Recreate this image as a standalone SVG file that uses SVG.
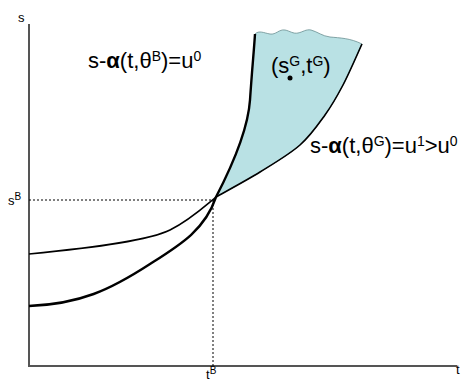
<svg xmlns="http://www.w3.org/2000/svg" width="468" height="381" viewBox="0 0 468 381">
<style>
text{font-family:"Liberation Sans",Arial,sans-serif;fill:#000}
.lbl{font-size:22px}
.sm{font-size:13px}
.axis{stroke:#555;stroke-width:2;fill:none}
.dash{stroke:#000;stroke-width:1;stroke-dasharray:2,2;fill:none}
.thin{stroke:#000;stroke-width:1.6;fill:none}
.thick{stroke:#000;stroke-width:2.4;fill:none}
</style>
<rect width="468" height="381" fill="#fff"/>
<g id="region">
<path d="M216,197 C230,170 248,130 250,100 C252,70 254,50 255,34 C259,30 264,33 270,34 C276,35 279,29 285,30 C290,31 293,34 298,33 C303,32 306,29 311,30 C318,32 322,36 330,37 C340,38 350,38 362,44 C358.8,50.8 349.2,73.2 343,85 C336.8,96.8 332.2,105 325,115 C317.8,125 310.8,135.5 300,145 C289.2,154.5 274,163.3 260,172 C246,180.7 223.3,192.8 216,197 Z" fill="#b9e1e4" stroke="#6a8f92" stroke-width="0.8"/>
</g>
<g id="connectors">
<line class="axis" x1="29" y1="24" x2="29" y2="367"/>
<line class="axis" x1="28" y1="366" x2="457" y2="366"/>
<line class="dash" x1="29" y1="200" x2="214" y2="200"/>
<line class="dash" x1="213" y1="200" x2="213" y2="366"/>
<path class="thin" d="M29,254 C100,247 150,240 170,230 C190,220 205,206 216,197 C223.3,192.8 246,180.7 260,172 C274,163.3 289.2,154.5 300,145 C310.8,135.5 317.8,125 325,115 C332.2,105 336.8,96.8 343,85 C349.2,73.2 358.8,50.8 362,44"/>
<path class="thick" d="M29,306 C80,304 110,290 150,264 C180,245 205,230 216,197 C230,170 248,130 250,100 C252,70 254,50 255,34"/>
</g>
<g id="labels">
<text class="sm" x="18" y="22">s</text>
<text class="sm" x="456" y="374">t</text>
<text class="sm" x="8" y="205">s<tspan font-size="10" dy="-5">B</tspan></text>
<text class="sm" x="206" y="379">t<tspan font-size="10" dy="-5">B</tspan></text>
<text class="lbl" x="88" y="68">s-<tspan font-weight="bold">α</tspan>(t,θ<tspan font-size="14" dy="-7">B</tspan><tspan dy="7">)=u</tspan><tspan font-size="14" dy="-7">0</tspan></text>
<text class="lbl" x="271" y="73">(s<tspan font-size="14" dy="-7">G</tspan><tspan dy="7">,t</tspan><tspan font-size="14" dy="-7">G</tspan><tspan dy="7">)</tspan></text>
<circle cx="290" cy="78" r="2.5" fill="#000"/>
<text class="lbl" x="310" y="153">s-<tspan font-weight="bold">α</tspan>(t,θ<tspan font-size="14" dy="-7">G</tspan><tspan dy="7">)=u</tspan><tspan font-size="14" dy="-7">1</tspan><tspan dy="7">&gt;u</tspan><tspan font-size="14" dy="-7">0</tspan></text>
</g>
</svg>
